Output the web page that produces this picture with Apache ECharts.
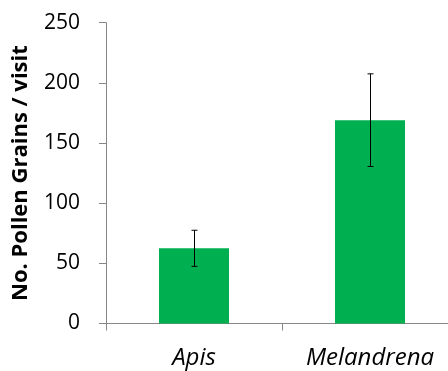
<!DOCTYPE html>
<html>
<head>
<meta charset="utf-8">
<script src="https://cdn.jsdelivr.net/npm/echarts@6/dist/echarts.min.js"></script>
<style>
  html, body { margin: 0; padding: 0; background: #fff; }
  #chart { width: 448px; height: 371px; }
</style>
</head>
<body>
<div id="chart"></div>
<script>
// Pollen grains deposited per visit, by visitor genus
const categories = ['Apis', 'Melandrena'];
const meanGrains = [62.5, 169];
const errorGrains = [15, 38.5];
const yTicks = { min: 0, max: 250, interval: 50 };

const axisGray = '#868686';
const barGreen = '#00B050';

const chart = echarts.init(document.getElementById('chart'), null, { renderer: 'canvas' });

const errorData = categories.map((c, i) => [i, meanGrains[i] - errorGrains[i], meanGrains[i] + errorGrains[i]]);

chart.setOption({
  animation: false,
  grid: { left: 106, right: -10, top: 22.7, bottom: 47.5, containLabel: false, outerBoundsMode: 'none' },
  xAxis: {
    type: 'category',
    data: categories,
    axisLine: { lineStyle: { color: axisGray, width: 1 } },
    axisTick: { show: true, length: 7, lineStyle: { color: axisGray } },
    axisLabel: {
      margin: 23,
      fontFamily: 'Open Sans',
      fontStyle: 'italic',
      fontSize: 24,
      color: '#000'
    }
  },
  yAxis: {
    type: 'value',
    min: yTicks.min,
    max: yTicks.max,
    interval: yTicks.interval,
    name: 'No. Pollen Grains / visit',
    nameLocation: 'middle',
    nameGap: 74,
    nameMoveOverlap: false,
    nameTextStyle: {
      fontFamily: 'Open Sans',
      fontWeight: 'bold',
      fontSize: 22,
      color: '#000'
    },
    axisLine: { show: true, lineStyle: { color: axisGray, width: 1 } },
    axisTick: { show: true, length: 7, lineStyle: { color: axisGray } },
    splitLine: { show: false },
    axisLabel: {
      margin: 26,
      fontFamily: 'Open Sans',
      fontSize: 21,
      color: '#000'
    }
  },
  series: [
    {
      type: 'bar',
      data: meanGrains,
      barWidth: 70,
      itemStyle: { color: barGreen },
      z: 2
    },
    {
      type: 'custom',
      data: errorData,
      z: 3,
      renderItem: function (params, api) {
        const x = api.value(0);
        const lo = api.coord([x, api.value(1)]);
        const hi = api.coord([x, api.value(2)]);
        const cap = 3;
        const style = { stroke: '#000', lineWidth: 1 };
        const px = Math.round(lo[0]) + 0.5;
        return {
          type: 'group',
          children: [
            { type: 'line', shape: { x1: px, y1: hi[1], x2: px, y2: lo[1] }, style },
            { type: 'line', shape: { x1: px - cap, y1: hi[1], x2: px + cap, y2: hi[1] }, style },
            { type: 'line', shape: { x1: px - cap, y1: lo[1], x2: px + cap, y2: lo[1] }, style }
          ]
        };
      }
    }
  ]
});
</script>
</body>
</html>
